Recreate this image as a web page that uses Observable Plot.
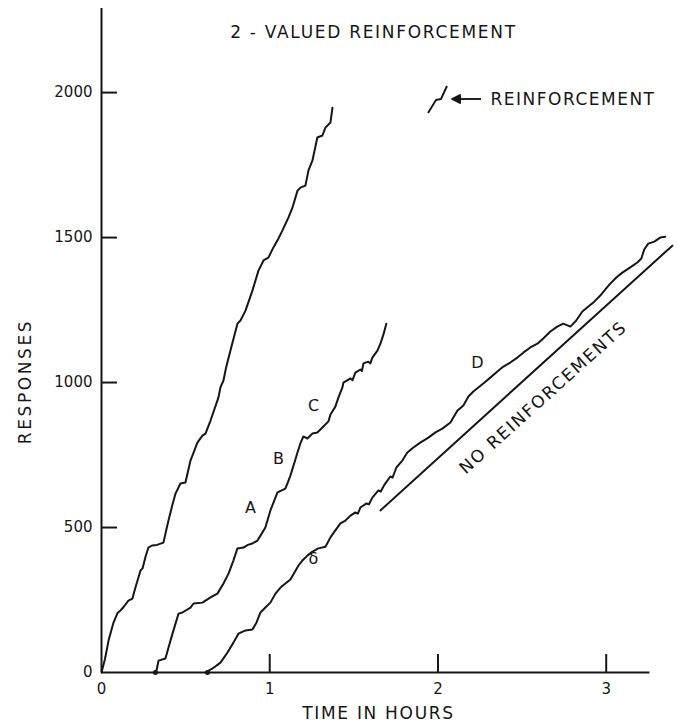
<!DOCTYPE html>
<html><head><meta charset="utf-8">
<script src="https://cdn.jsdelivr.net/npm/d3@7"></script>
<script src="https://cdn.jsdelivr.net/npm/@observablehq/plot@0.6"></script>
<style>
html,body{margin:0;padding:0;background:#fff;}
#chart svg{display:block;}
</style></head><body><div id="chart"></div>
<script>
// ---- data (hours, cumulative responses) ----
const curve1Hours = [0,0.020,0.042,0.070,0.095,0.113,0.130,0.160,0.184,0.200,0.232,0.244,0.262,0.279,0.300,0.330,0.368,0.398,0.420,0.440,0.469,0.499,0.529,0.570,0.600,0.618,0.648,0.695,0.707,0.725,0.740,0.766,0.808,0.826,0.856,0.897,0.933,0.963,0.992,1.022,1.052,1.075,1.111,1.135,1.165,1.182,1.212,1.230,1.254,1.283,1.313,1.331,1.361,1.373];
const curve1Responses = [0,45,110,170,205,214,225,248,255,290,352,359,400,431,438,440,448,524,575,617,652,655,731,793,817,824,869,948,983,1007,1050,1110,1203,1214,1248,1317,1386,1421,1431,1466,1497,1524,1569,1603,1662,1672,1679,1731,1766,1845,1852,1879,1897,1948];

const curve2Hours = [0.309,0.327,0.339,0.380,0.400,0.422,0.458,0.481,0.529,0.547,0.600,0.648,0.689,0.725,0.755,0.784,0.808,0.844,0.870,0.897,0.927,0.945,0.974,1.004,1.046,1.093,1.123,1.165,1.182,1.200,1.224,1.254,1.283,1.313,1.349,1.361,1.390,1.408,1.432,1.438,1.480,1.492,1.509,1.539,1.548,1.557,1.586,1.598,1.610,1.640,1.658,1.676,1.693];
const curve2Responses = [0,7,41,48,90,134,203,207,224,238,241,259,272,307,341,386,428,431,440,445,455,472,500,559,621,634,679,759,790,814,807,824,828,845,866,890,917,948,983,1000,1014,1008,1034,1045,1040,1066,1072,1066,1086,1110,1134,1166,1203];

const curve3Hours = [0.618,0.660,0.707,0.749,0.784,0.814,0.856,0.897,0.921,0.945,0.974,1.004,1.034,1.064,1.093,1.123,1.147,1.171,1.194,1.224,1.254,1.289,1.331,1.361,1.390,1.420,1.450,1.480,1.509,1.524,1.539,1.575,1.590,1.610,1.646,1.660,1.682,1.717,1.730,1.753,1.788,1.818,1.854,1.895,1.943,1.985,2.026,2.074,2.115,2.151,2.181,2.210,2.240,2.282,2.311,2.353,2.389,2.430,2.472,2.507,2.549,2.591,2.626,2.668,2.709,2.745,2.787,2.822,2.858,2.894,2.929,2.965,2.995,3.024,3.060,3.096,3.143,3.185,3.209,3.226,3.250,3.286,3.321,3.351];
const curve3Responses = [0,14,34,69,103,134,145,148,172,207,224,241,272,293,307,321,345,369,386,403,417,428,434,466,490,514,524,541,552,548,569,583,580,603,628,624,648,676,672,707,731,759,776,793,810,828,841,862,903,921,952,969,983,1003,1017,1038,1055,1069,1086,1103,1121,1134,1152,1176,1193,1203,1193,1214,1245,1262,1279,1300,1321,1341,1362,1379,1397,1414,1428,1459,1479,1486,1500,1503];

// "No reinforcements" guide line (hours, responses)
const guideHours = [1.658, 3.393];
const guideResponses = [559, 1472];

// curve letters
const letterText = ["A","B","C","D","δ"];
const letterHours = [0.885,1.052,1.260,2.234,1.260];
const letterResponses = [569,738,921,1069,393];

// axes
const xTickValues = [0,1,2,3];
const yTickValues = [0,500,1000,1500,2000];
const xAxisEnd = 3.26;
const yDomainTop = 2290;

const titleText = "2 - VALUED REINFORCEMENT";
const xLabel = "TIME IN HOURS";
const yLabel = "RESPONSES";
const legendText = "REINFORCEMENT";
const guideText = "NO REINFORCEMENTS";

// ---- build tables ----
const mk = (hs, rs, name) => hs.map((h, i) => ({h, r: rs[i], curve: name}));
const records = [
  ...mk(curve1Hours, curve1Responses, "1"),
  ...mk(curve2Hours, curve2Responses, "2"),
  ...mk(curve3Hours, curve3Responses, "3")
];
const guide = mk(guideHours, guideResponses, "g");
const letters = letterText.map((t, i) => ({t, h: letterHours[i], r: letterResponses[i]}));
const starts = [records.find(d => d.curve === "2"), records.find(d => d.curve === "3")];

const ink = "#161616";
const font = "DejaVu Sans";
const plain = d => `${d}`;

function legendGlyph(index, scales, values, dim) {
  const g = d3.create("svg:g").attr("fill", "none").attr("stroke", ink)
    .attr("stroke-width", 1.9).attr("stroke-linejoin", "round");
  const ax = 489; // start of legend text
  const ay = 99;
  g.append("path").attr("d", `M${ax-61},${ay+14} L${ax-53},${ay+1} L${ax-48},${ay} L${ax-42},${ay-13}`);
  g.append("path").attr("d", `M${ax-8},${ay} L${ax-33},${ay}`);
  g.append("path").attr("d", `M${ax-37},${ay} L${ax-29},${ay-4} L${ax-29},${ay+4} Z`).attr("fill", ink);
  return g.node();
}

const chart = Plot.plot({
  width: 678,
  height: 726,
  marginLeft: 101,
  marginRight: 5,
  marginTop: 8,
  marginBottom: 54,
  style: {fontFamily: font, fontSize: "15px", color: ink, background: "#fff"},
  x: {domain: [0, 3.4], label: null},
  y: {domain: [0, yDomainTop], label: null},
  marks: [
    Plot.ruleX([0], {stroke: ink, strokeWidth: 2}),
    Plot.ruleY([0], {x1: 0, x2: xAxisEnd, stroke: ink, strokeWidth: 2}),
    Plot.axisY(yTickValues.filter(v => v > 0), {tickSize: -16, tickFormat: () => "", strokeWidth: 2, stroke: ink}),
    Plot.axisY(yTickValues, {tickSize: 0, tickPadding: 9, fontSize: 15, fill: ink, tickFormat: plain}),
    Plot.axisX(xTickValues.filter(v => v > 0), {tickSize: -18, tickFormat: () => "", strokeWidth: 2, stroke: ink}),
    Plot.axisX(xTickValues, {tickSize: 0, tickPadding: 11, fontSize: 15, fill: ink, tickFormat: plain}),
    Plot.line(records, {x: "h", y: "r", z: "curve", stroke: ink, strokeWidth: 2, strokeLinejoin: "round"}),
    Plot.dot(starts, {x: "h", y: "r", r: 2.5, fill: ink, stroke: null, dx: 2}),
    Plot.line(guide, {x: "h", y: "r", stroke: ink, strokeWidth: 2}),
    Plot.text(letters, {x: "h", y: "r", text: "t", fontSize: 16, fill: ink}),
    Plot.text([guideText], {x: [2.626], y: [948], rotate: -42, fontSize: 17, fill: ink}),
    Plot.text([titleText], {frameAnchor: "top", dx: -14, dy: 24, textAnchor: "middle", lineAnchor: "middle", fontSize: 17, fill: ink}),
    Plot.text([xLabel], {frameAnchor: "bottom", dx: -9, dy: 41, textAnchor: "middle", lineAnchor: "middle", fontSize: 17, fill: ink}),
    Plot.text([yLabel], {frameAnchor: "left", dx: -76, dy: 41, rotate: -90, textAnchor: "middle", lineAnchor: "middle", fontSize: 17, fill: ink}),
    Plot.text([legendText], {frameAnchor: "top-right", dx: -18, dy: 91, textAnchor: "end", lineAnchor: "middle", fontSize: 17, fill: ink}),
    legendGlyph
  ]
});

// widen the stencil-style lettering
const spacing = new Map([[titleText, 1.7], [xLabel, 1.7], [yLabel, 2.6], [legendText, 1.5], [guideText, 1.8]]);
d3.select(chart).selectAll("text").each(function() {
  const s = spacing.get(this.textContent);
  if (s != null) this.setAttribute("letter-spacing", `${s}px`);
});
document.getElementById("chart").append(chart);
</script></body></html>
